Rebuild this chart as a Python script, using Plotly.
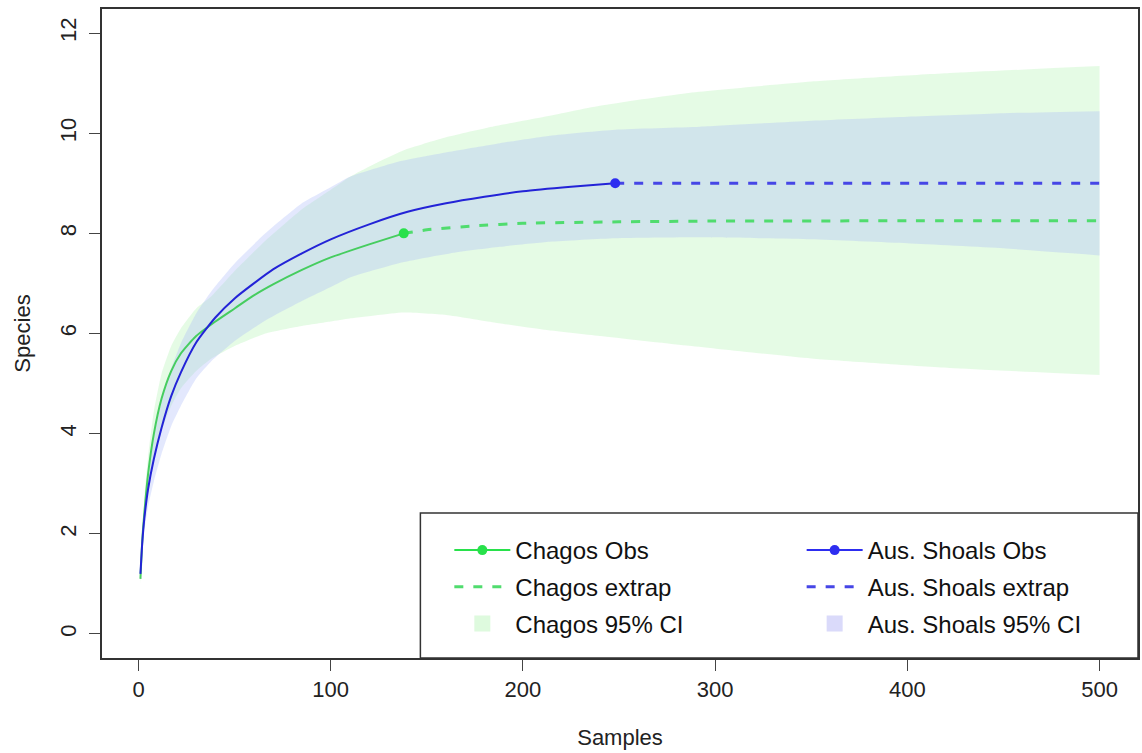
import plotly.graph_objects as go

# ---------------- data ----------------
x_ticks = [0, 100, 200, 300, 400, 500]
y_ticks = [0, 2, 4, 6, 8, 10, 12]

chagos_obs_x = [1, 2, 3, 5, 8, 12, 17, 22, 30, 40, 50, 60, 70, 85, 100, 120, 138]
chagos_obs_y = [1.1, 1.9, 2.4, 3.2, 4.0, 4.7, 5.25, 5.6, 5.95, 6.24, 6.5, 6.76, 6.98, 7.27, 7.52, 7.78, 8.0]

aus_obs_x = [1, 2, 3, 5, 8, 12, 17, 22, 30, 40, 50, 60, 70, 85, 100, 120, 140, 160, 180, 200, 225, 248]
aus_obs_y = [1.2, 1.85, 2.3, 2.9, 3.5, 4.12, 4.75, 5.22, 5.82, 6.32, 6.7, 7.0, 7.28, 7.6, 7.88, 8.18, 8.43, 8.6, 8.73, 8.84, 8.93, 9.0]

chagos_ext_x = [138, 150, 175, 200, 250, 300, 400, 500]
chagos_ext_y = [8.0, 8.07, 8.15, 8.2, 8.23, 8.245, 8.25, 8.25]

aus_ext_x = [248, 300, 400, 500]
aus_ext_y = [9.0, 9.0, 9.0, 9.0]

chagos_ci_x = [1, 3, 5, 8, 12, 17, 22, 30, 38, 50, 66, 85, 100, 110, 125, 138, 160, 185, 210, 240, 285, 350, 422, 500]
chagos_ci_lo = [1.0, 2.15, 2.8, 3.45, 4.05, 4.55, 4.9, 5.25, 5.5, 5.75, 6.0, 6.15, 6.24, 6.3, 6.37, 6.42, 6.37, 6.22, 6.08, 5.95, 5.76, 5.5, 5.31, 5.17]
chagos_ci_hi = [1.2, 2.7, 3.55, 4.45, 5.2, 5.75, 6.1, 6.5, 6.75, 7.25, 7.85, 8.48, 8.87, 9.13, 9.43, 9.66, 9.92, 10.14, 10.32, 10.55, 10.8, 11.03, 11.2, 11.34]

aus_ci_x = [1, 3, 5, 8, 12, 17, 22, 30, 38, 50, 66, 85, 100, 110, 135, 162, 188, 214, 248, 292, 350, 400, 450, 500]
aus_ci_lo = [1.1, 2.05, 2.55, 3.05, 3.6, 4.15, 4.55, 5.1, 5.45, 5.85, 6.26, 6.65, 6.93, 7.12, 7.4, 7.6, 7.73, 7.83, 7.9, 7.92, 7.88, 7.8, 7.7, 7.56]
aus_ci_hi = [1.3, 2.55, 3.25, 3.95, 4.65, 5.3, 5.8, 6.4, 6.85, 7.4, 8.0, 8.6, 8.92, 9.13, 9.43, 9.63, 9.8, 9.95, 10.07, 10.13, 10.25, 10.33, 10.4, 10.44]

# ---------------- styles ----------------
GREEN_LINE = 'rgb(70,205,95)'
GREEN_DOT = 'rgb(40,225,75)'
GREEN_DASH = 'rgb(80,220,110)'
GREEN_FILL = 'rgba(0,220,0,0.10)'
BLUE_LINE = 'rgb(35,35,215)'
BLUE_DOT = 'rgb(45,45,240)'
BLUE_DASH = 'rgb(70,70,230)'
BLUE_FILL = 'rgba(170,185,250,0.33)'
DASH = '9px,10px'
FONT = 'Liberation Sans, Arial, Helvetica, sans-serif'
EDGE = dict(width=0, shape='spline', smoothing=0.5)

fig = go.Figure()

# confidence bands (lower edge, then upper edge filled down to it)
fig.add_trace(go.Scatter(x=chagos_ci_x, y=chagos_ci_lo, mode='lines', line=EDGE,
                         showlegend=False, hoverinfo='skip'))
fig.add_trace(go.Scatter(x=chagos_ci_x, y=chagos_ci_hi, mode='lines', line=EDGE,
                         fill='tonexty', fillcolor=GREEN_FILL, showlegend=False, hoverinfo='skip'))
fig.add_trace(go.Scatter(x=aus_ci_x, y=aus_ci_lo, mode='lines', line=EDGE,
                         showlegend=False, hoverinfo='skip'))
fig.add_trace(go.Scatter(x=aus_ci_x, y=aus_ci_hi, mode='lines', line=EDGE,
                         fill='tonexty', fillcolor=BLUE_FILL, showlegend=False, hoverinfo='skip'))

# extrapolations
fig.add_trace(go.Scatter(x=chagos_ext_x, y=chagos_ext_y, mode='lines',
                         line=dict(color=GREEN_DASH, width=3, dash=DASH, shape='spline', smoothing=0.6),
                         showlegend=False))
fig.add_trace(go.Scatter(x=aus_ext_x, y=aus_ext_y, mode='lines',
                         line=dict(color=BLUE_DASH, width=3, dash=DASH), showlegend=False))

# observed
fig.add_trace(go.Scatter(x=chagos_obs_x, y=chagos_obs_y, mode='lines',
                         line=dict(color=GREEN_LINE, width=2, shape='spline', smoothing=0.6), showlegend=False))
fig.add_trace(go.Scatter(x=aus_obs_x, y=aus_obs_y, mode='lines',
                         line=dict(color=BLUE_LINE, width=2, shape='spline', smoothing=0.6), showlegend=False))
fig.add_trace(go.Scatter(x=chagos_obs_x[-1:], y=chagos_obs_y[-1:], mode='markers',
                         marker=dict(color=GREEN_DOT, size=10), showlegend=False))
fig.add_trace(go.Scatter(x=aus_obs_x[-1:], y=aus_obs_y[-1:], mode='markers',
                         marker=dict(color=BLUE_DOT, size=10), showlegend=False))


# legend entries
def leg(name, legend, group, **kw):
    fig.add_trace(go.Scatter(x=[None], y=[None], name=name, legend=legend, legendgroup=group,
                             showlegend=True, **kw))


leg('Chagos Obs', 'legend', 'g1', mode='lines+markers', line=dict(color=GREEN_DOT, width=2),
    marker=dict(color=GREEN_DOT, size=10))
leg('Chagos extrap', 'legend', 'g2', mode='lines', line=dict(color=GREEN_DASH, width=3, dash=DASH))
leg('Chagos 95% CI', 'legend', 'g3', mode='markers',
    marker=dict(symbol='square', color='rgb(222,250,222)', size=16))
leg('Aus. Shoals Obs', 'legend2', 'b1', mode='lines+markers', line=dict(color=BLUE_DOT, width=2),
    marker=dict(color=BLUE_DOT, size=10))
leg('Aus. Shoals extrap', 'legend2', 'b2', mode='lines', line=dict(color=BLUE_DASH, width=3, dash=DASH))
leg('Aus. Shoals 95% CI', 'legend2', 'b3', mode='markers',
    marker=dict(symbol='square', color='rgb(218,218,250)', size=16))

axis_common = dict(ticks='outside', ticklen=11, tickwidth=1.2, tickcolor='#444', showline=True,
                   linecolor='#333', linewidth=1.5, mirror=True, showgrid=False, zeroline=False,
                   tickfont=dict(size=22, color='#222', family=FONT))

leg_common = dict(xanchor='left', yanchor='top', bgcolor='rgba(0,0,0,0)', borderwidth=0,
                  itemwidth=56, tracegroupgap=2.5, traceorder='grouped',
                  font=dict(size=24, color='#111', family=FONT))

fig.update_layout(
    width=1142, height=753,
    margin=dict(l=102, r=2, t=9, b=95),
    plot_bgcolor='white', paper_bgcolor='white',
    font=dict(family=FONT, size=20, color='#222'),
    xaxis=dict(range=[-19, 520], tickvals=x_ticks,
               title=dict(text='Samples', standoff=28, font=dict(size=22, color='#222')), **axis_common),
    yaxis=dict(range=[-0.48, 12.48], tickvals=y_ticks, tickangle=-90, ticklabelstandoff=4,
               title=dict(text='Species', standoff=20, font=dict(size=22, color='#222')), **axis_common),
    legend=dict(x=(450 - 102) / 1038, y=(658 - 528) / 649, **leg_common),
    legend2=dict(x=(803 - 102) / 1038, y=(658 - 528) / 649, **leg_common),
    shapes=[dict(type='rect', xref='paper', yref='paper', x0=(421 - 102) / 1038, x1=1, y0=0,
                 y1=(658 - 513) / 649, line=dict(color='#333', width=1.5), fillcolor='white',
                 layer='above')],
    showlegend=True,
)

fig.write_html('out.html')
